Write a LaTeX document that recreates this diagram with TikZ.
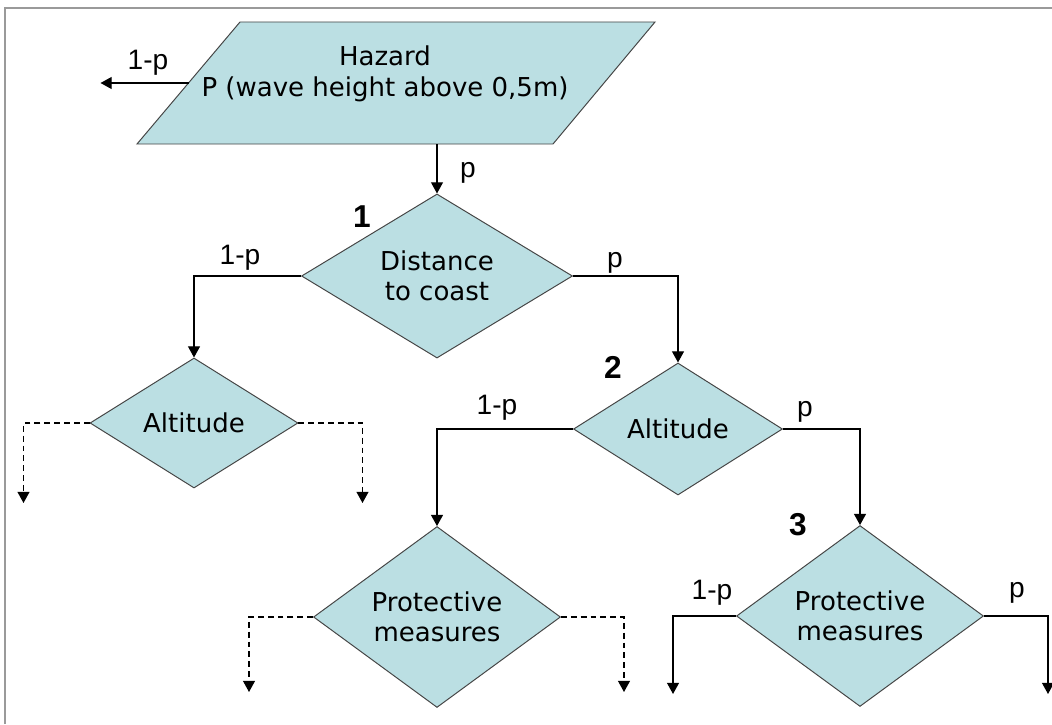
\documentclass[tikz,border=0pt]{standalone}
\usepackage{fontspec}
\setmainfont{DejaVu Sans}
\newfontfamily\labelfont{Liberation Sans}
\usepackage{xcolor}
\usepackage{tikz}
\usetikzlibrary{positioning,arrows.meta,shapes.geometric,calc}
\definecolor{boxfill}{HTML}{BBDFE3}
\definecolor{boxline}{HTML}{454545}
\definecolor{framegrey}{HTML}{9A9A9A}

\begin{document}
\begin{tikzpicture}[
  font=\fontsize{18.5}{21.5}\selectfont,
  decision/.style={diamond, draw=boxline, fill=boxfill, line width=0.7pt, inner sep=0pt, align=center},
  hazbox/.style={draw=boxline, fill=boxfill, line width=0.7pt},
  arr/.style={-{Triangle[length=2.8mm,width=3mm]}, line width=0.85pt},
  open/.style={arr, dash pattern=on 4.2pt off 2.8pt},
  prob/.style={font=\labelfont\fontsize{20}{22}\selectfont, inner sep=0pt},
  num/.style={font=\labelfont\bfseries\fontsize{22.5}{24}\selectfont, inner sep=0pt}
]
  \useasboundingbox (0,0) rectangle (26.3,-18.1);

  % frame (top and left edge only)
  \draw[framegrey, line width=1.4pt] (0.125,-18.1) -- (0.125,-0.2) -- (26.3,-0.2);

  % HAZARD (parallelogram)
  \coordinate (hazBL) at (3.425, -3.6);
  \coordinate (hazBR) at (13.825, -3.6);
  \coordinate (hazTR) at (16.375, -0.55);
  \coordinate (hazTL) at (6.0, -0.55);
  \draw[hazbox] (hazBL) -- (hazBR) -- (hazTR) -- (hazTL) -- cycle;
  \coordinate (hazW) at ($(hazBL)!0.5!(hazTL)$);
  \node[align=center, inner sep=0pt, font=\fontsize{18.5}{22.5}\selectfont] (haztext) at (9.625, -1.85) {Hazard\\P (wave height above 0,5m)};

  % LEVEL 1
  \node[decision, minimum width=6.775cm, minimum height=3.4cm] (dist) at (10.925, -6.9) {Distance\\to coast};
  \node[num] (n1) at (9.05, -5.425) {1};

  % LEVEL 2
  \node[decision, minimum width=5.2cm, minimum height=3.25cm] (altA) at (4.85, -10.575) {Altitude};
  \node[decision, minimum width=5.225cm, minimum height=3.3cm] (altB) at (16.95, -10.725) {Altitude};
  \node[num] (n2) at (15.325, -9.175) {2};

  % LEVEL 3
  \node[decision, minimum width=6.175cm, minimum height=4.3cm] (protA) at (10.925, -15.425) {Protective\\measures};
  \node[decision, minimum width=6.175cm, minimum height=4.3cm] (protB) at (21.5, -15.4) {Protective\\measures};
  \node[num] (n3) at (19.95, -13.125) {3};

  % hazard branches
  \draw[arr] (hazW) -- ++(-2.2, 0);
  \node[prob] at (3.7, -1.575) {1-p};
  \draw[arr] (hazBL -| dist.north) -- (dist.north);
  \node[prob] at (11.7, -4.325) {p};

  % distance branches
  \draw[arr] (dist.west) -| (altA.north);
  \node[prob] at (6.0, -6.45) {1-p};
  \draw[arr] (dist.east) -| (altB.north);
  \node[prob] at (15.375, -6.575) {p};

  % altitude branches
  \draw[open] (altA.west) -| ++(-1.65, -2.0);
  \draw[open] (altA.east) -| ++(1.6, -2.0);
  \draw[arr] (altB.west) -| (protA.north);
  \node[prob] at (12.425, -10.2) {1-p};
  \draw[arr] (altB.east) -| (protB.north);
  \node[prob] at (20.125, -10.3) {p};

  % protective measures branches
  \draw[open] (protA.west) -| ++(-1.6, -1.875);
  \draw[open] (protA.east) -| ++(1.575, -1.875);
  \draw[arr] (protB.west) -| ++(-1.575, -1.95);
  \node[prob] at (17.8, -14.825) {1-p};
  \draw[arr] (protB.east) -| ++(1.6, -1.95);
  \node[prob] at (25.425, -14.825) {p};

\end{tikzpicture}
\end{document}
